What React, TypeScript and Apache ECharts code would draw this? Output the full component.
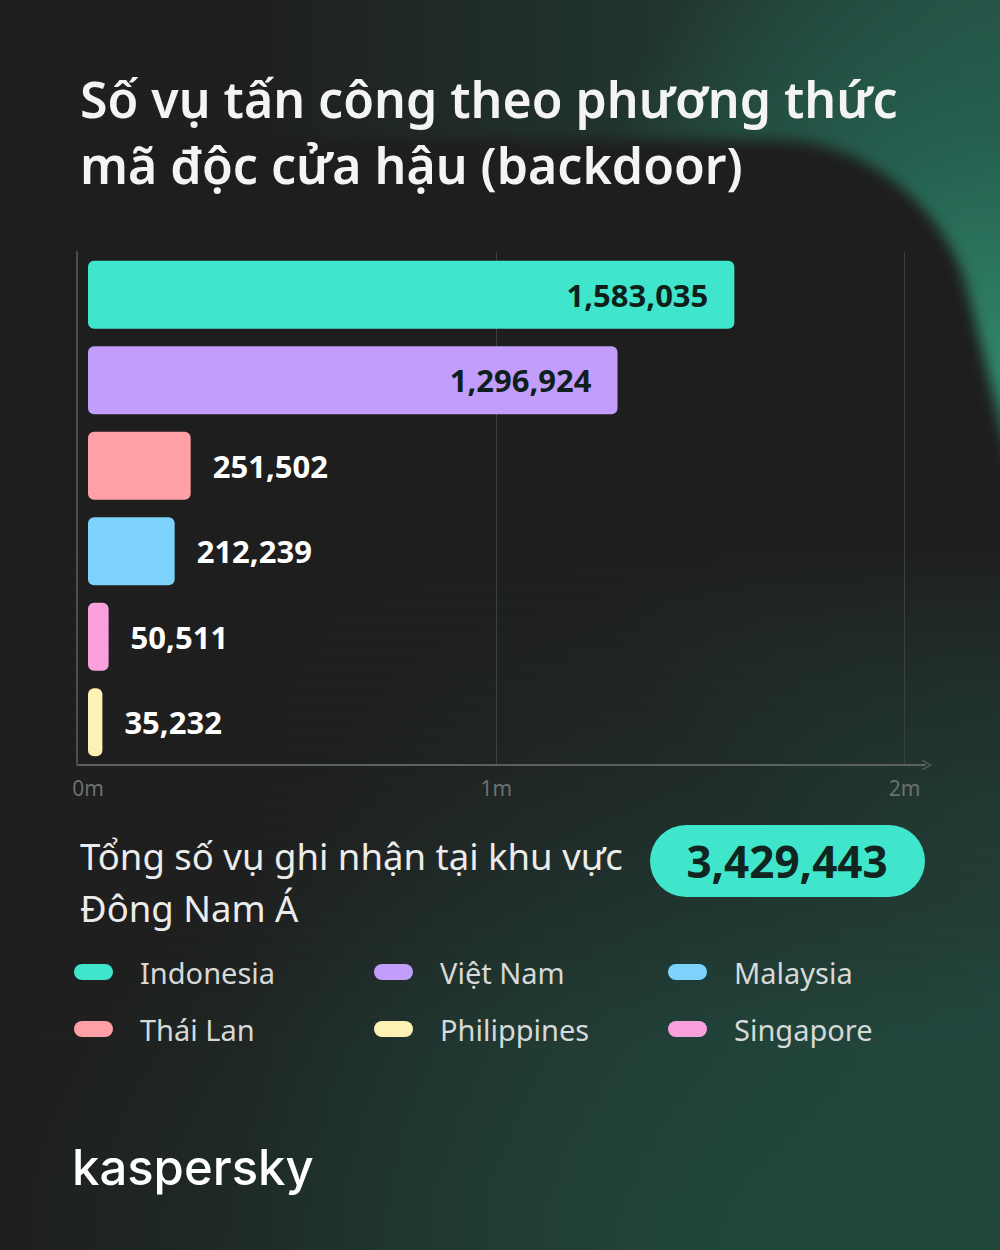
import React, { useEffect, useRef } from "react";
import * as echarts from "echarts";

const titleText = "Số vụ tấn công theo phương thức\nmã độc cửa hậu (backdoor)";
const categories = ["Indonesia", "Việt Nam", "Thái Lan", "Malaysia", "Singapore", "Philippines"];
const values = [1583035, 1296924, 251502, 212239, 50511, 35232];
const colors = ["#40e6cb", "#c29dfc", "#ff9fa6", "#7dd3fb", "#f9a0dd", "#fdf2b4"];
const insideLabel = [true, true, false, false, false, false];
const xTickLabels = ["0m", "1m", "2m"];
const totalLabel = "Tổng số vụ ghi nhận tại khu vực\nĐông Nam Á";
const totalValue = "3,429,443";
const legendCol1 = ["Indonesia", "Thái Lan"];
const legendCol2 = ["Việt Nam", "Philippines"];
const legendCol3 = ["Malaysia", "Singapore"];
const brand = "kaspersky";

const pill = "path://M8,0 L31,0 A8,8 0 0 1 31,16 L8,16 A8,8 0 0 1 8,0 Z";
const chevron = "path://M0,9 L5,0 L10,9 L9,10 L5,2.2 L1,10 Z";
const AXIS_COLOR = "#5c605f";

export default function App() {
  const ref = useRef<HTMLDivElement>(null);
  useEffect(() => {
    document.body.style.margin = "0";
    const chart = echarts.init(ref.current!, undefined, { renderer: "svg" });
    const legendBase = {
      orient: "vertical",
      top: 957,
      padding: 0,
      itemWidth: 39,
      itemHeight: 16,
      itemGap: 27,
      selectedMode: false,
      icon: pill,
      textStyle: {
        color: "#d6d9d8",
        fontSize: 29,
        fontFamily: "Noto Sans",
        lineHeight: 30,
        padding: [0, 0, 0, 22],
      },
    };
    chart.setOption({
      animation: false,
      backgroundColor: "transparent",
      title: {
        text: titleText,
        left: 75,
        top: 61,
        textStyle: {
          color: "#f4f4f2",
          fontSize: 50,
          fontWeight: 600,
          fontFamily: "Noto Sans",
          lineHeight: 66,
        },
      },
      legend: [
        { ...legendBase, left: 74, data: legendCol1 },
        { ...legendBase, left: 374, data: legendCol2 },
        { ...legendBase, left: 668, data: legendCol3 },
      ],
      grid: { left: 88, right: 75, top: 252, bottom: 485, containLabel: false },
      xAxis: {
        type: "value",
        min: 0,
        max: 2050000,
        interval: 1000000,
        axisLine: {
          show: true,
          symbol: ["none", chevron],
          symbolSize: [16, 10],
          symbolOffset: [0, 2],
          lineStyle: { color: AXIS_COLOR, width: 2 },
        },
        axisTick: { show: false },
        axisLabel: {
          color: "#6c7170",
          fontSize: 21,
          fontFamily: "Noto Sans",
          margin: 12,
          formatter: (v: number) => (v % 1000000 === 0 ? xTickLabels[v / 1000000] : ""),
        },
        splitLine: {
          show: true,
          showMinLine: false,
          showMaxLine: false,
          lineStyle: { color: "#3c403f", width: 1 },
        },
      },
      yAxis: {
        type: "category",
        data: categories,
        inverse: true,
        offset: 11,
        axisLine: { show: true, onZero: false, lineStyle: { color: "#4a4e4d", width: 2 } },
        axisTick: { show: false },
        axisLabel: { show: false },
        splitLine: { show: false },
      },
      series: categories.map((name, i) => ({
        type: "bar",
        name,
        stack: "total",
        barWidth: 68,
        data: values.map((v, j) => (j === i ? v : "-")),
        itemStyle: { color: colors[i], borderRadius: 6 },
        label: {
          show: true,
          position: insideLabel[i] ? "insideRight" : "right",
          distance: insideLabel[i] ? 26 : 22,
          color: insideLabel[i] ? "#0f1f1c" : "#ffffff",
          fontSize: 31,
          fontWeight: "bold",
          fontFamily: "Noto Sans",
          formatter: (p: any) => Number(p.value).toLocaleString("en-US"),
        },
      })),
    });

    // x-axis line joins the offset y-axis: compute from the axis scale
    const origin = chart.convertToPixel({ gridIndex: 0 }, [0, categories[categories.length - 1]]) as number[];
    const gridRect = (chart as any).getModel().getComponent("grid", 0).coordinateSystem.getRect();
    const axisY = gridRect.y + gridRect.height;

    chart.setOption({
      graphic: [
        {
          type: "line",
          shape: { x1: origin[0] - 11, y1: axisY, x2: origin[0], y2: axisY },
          style: { stroke: AXIS_COLOR, lineWidth: 2 },
        },
        {
          type: "text",
          left: 80,
          top: 830,
          style: {
            text: totalLabel,
            fill: "#ececec",
            font: '400 36.5px "Noto Sans"',
            lineHeight: 52,
          },
        },
        {
          type: "rect",
          shape: { x: 650, y: 825, width: 275, height: 72, r: 36 },
          style: { fill: "#40e6cb" },
        },
        {
          type: "text",
          x: 787,
          y: 861,
          style: {
            text: totalValue,
            fill: "#102420",
            font: 'bold 44px "Noto Sans"',
            align: "center",
            verticalAlign: "middle",
          },
        },
        {
          type: "text",
          x: 72,
          y: 1167,
          style: {
            text: brand,
            fill: "#ffffff",
            font: '500 49px "Inter"',
            verticalAlign: "middle",
          },
        },
      ],
    });
    return () => chart.dispose();
  }, []);

  return (
    <div
      style={{
        position: "relative",
        width: 1000,
        height: 1250,
        overflow: "hidden",
        background:
          "radial-gradient(ellipse 520px 620px at 100% 30%, #31866b 0%, #255e4e 40%, rgba(30,31,30,0) 85%), radial-gradient(ellipse 1000px 650px at 85% 100%, #20473c 0%, rgba(30,31,30,0) 85%), linear-gradient(90deg, #1e1f1e 25%, #24493f 100%)",
      }}
    >
      <div
        style={{
          position: "absolute",
          left: -200,
          top: 140,
          width: 1130,
          height: 900,
          borderTopRightRadius: 150,
          transformOrigin: "0 0",
          transform: "skewX(14deg)",
          background: "linear-gradient(180deg, #1e1e1e 0%, #1e1e1e 45%, rgba(30,30,30,0) 100%)",
          filter: "blur(7px)",
        }}
      />
      <div ref={ref} style={{ position: "absolute", left: 0, top: 0, width: 1000, height: 1250 }} />
    </div>
  );
}
